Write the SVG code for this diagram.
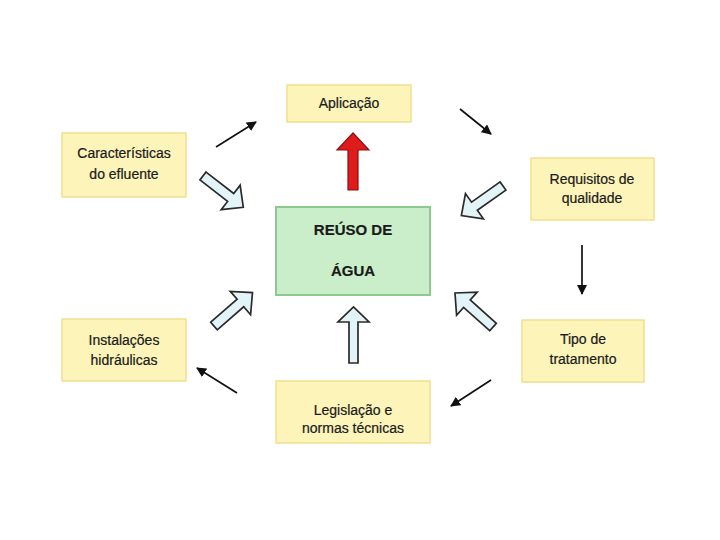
<svg xmlns="http://www.w3.org/2000/svg" xmlns:xlink="http://www.w3.org/1999/xlink" width="720" height="540" viewBox="0 0 720 540">
<style>
.box{fill:#fcf4b9;stroke:#efe190;stroke-width:1.5}
.core{fill:#c9eec9;stroke:#8dc98d;stroke-width:2}
.t{font-family:"Liberation Sans",Arial,sans-serif;font-size:14px;fill:#1a1a1a;text-anchor:middle;stroke:#1a1a1a;stroke-width:0.2}
.b{font-weight:bold;font-size:15px}
.ln{stroke:#111;stroke-width:1.7;fill:none}
.blk{fill:#e2f4f8;stroke:#2a2a2a;stroke-width:1.7;stroke-linejoin:miter}
</style>
<defs>
<marker id="ah" viewBox="0 0 10 10" refX="9" refY="5" markerWidth="10" markerHeight="10" orient="auto" markerUnits="userSpaceOnUse">
<path d="M0,0 L10,5 L0,10 z" fill="#111"/>
</marker>
<polygon id="ba" points="0,-5 35,-5 35,-15.5 51,0 35,15.5 35,5 0,5"/>
</defs>
<rect width="720" height="540" fill="#fff"/>
<g id="aplicacao"><rect class="box" x="287" y="85" width="124" height="37"/><text class="t" x="349" y="108">Aplicação</text></g>
<g id="caracteristicas"><rect class="box" x="62" y="133" width="124" height="64"/><text class="t" x="124" y="158">Características</text><text class="t" x="124" y="179">do efluente</text></g>
<g id="requisitos"><rect class="box" x="531" y="158" width="123" height="62"/><text class="t" x="592" y="184">Requisitos de</text><text class="t" x="592" y="203">qualidade</text></g>
<g id="reuso"><rect class="core" x="276" y="207" width="154" height="88"/><text class="t b" x="353" y="235">REÚSO DE</text><text class="t b" x="353" y="276">ÁGUA</text></g>
<g id="tipo"><rect class="box" x="522" y="320" width="122" height="62"/><text class="t" x="583" y="344">Tipo de</text><text class="t" x="583" y="364">tratamento</text></g>
<g id="instalacoes"><rect class="box" x="62" y="319" width="124" height="62"/><text class="t" x="124" y="345">Instalações</text><text class="t" x="124" y="365">hidráulicas</text></g>
<g id="legislacao"><rect class="box" x="276" y="381" width="154" height="62"/><text class="t" x="353" y="415">Legislação e</text><text class="t" x="353" y="433">normas técnicas</text></g>
<g id="connectors">
<line class="ln" x1="216" y1="147" x2="256" y2="122" marker-end="url(#ah)"/>
<line class="ln" x1="460" y1="109" x2="491" y2="134" marker-end="url(#ah)"/>
<line class="ln" x1="582" y1="245" x2="582" y2="294" marker-end="url(#ah)"/>
<line class="ln" x1="491" y1="380" x2="451" y2="406" marker-end="url(#ah)"/>
<line class="ln" x1="237" y1="393" x2="197" y2="368" marker-end="url(#ah)"/>
<polygon points="348,190 348,150 337,150 353,133 369,150 358,150 358,190" fill="#e01b1b" stroke="#8a1010" stroke-width="1.2"/>
<use xlink:href="#ba" class="blk" transform="translate(203,176) rotate(37.8)"/>
<use xlink:href="#ba" class="blk" transform="translate(503,186) rotate(144.7)"/>
<use xlink:href="#ba" class="blk" transform="translate(493,327) rotate(221.8)"/>
<use xlink:href="#ba" class="blk" transform="translate(214,326) rotate(-41)"/>
<polygon class="blk" points="349,363 349,322 338,322 353.5,307 369,322 358,322 358,363"/>
</g>
</svg>
